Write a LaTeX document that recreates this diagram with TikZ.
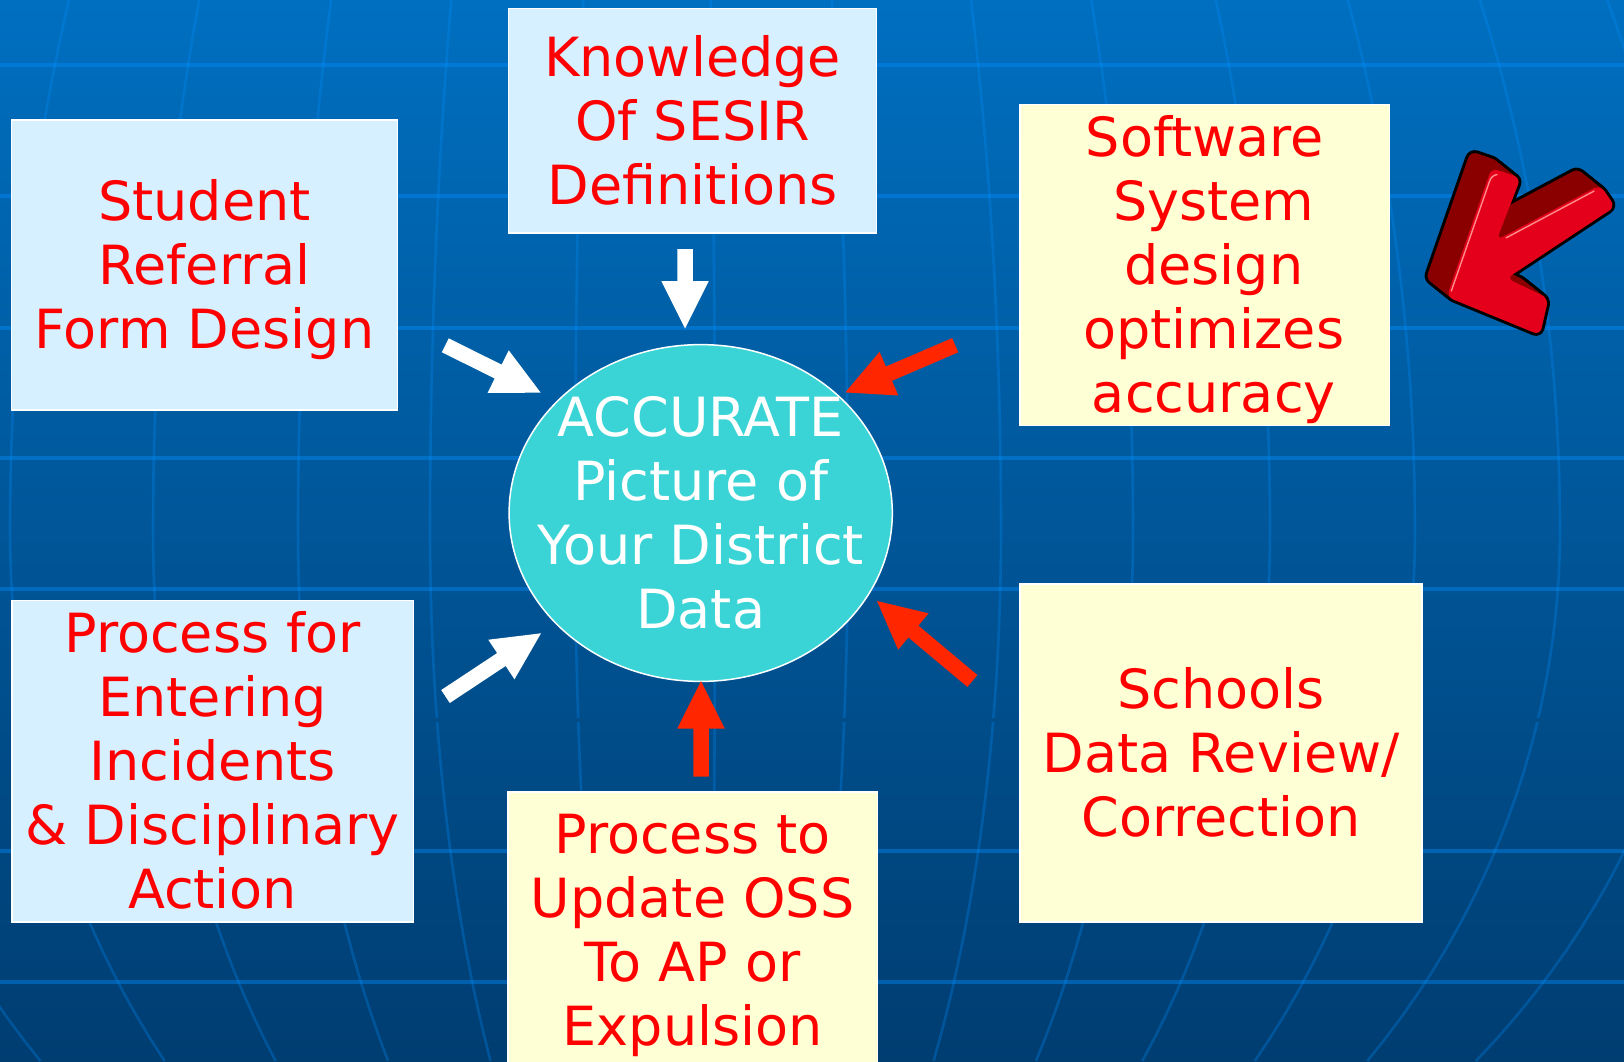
\documentclass[tikz,border=0pt]{standalone}
\usepackage{fontspec}
\setmainfont{DejaVu Sans}
\usetikzlibrary{shapes.geometric,calc}
\definecolor{boxblue}{RGB}{214,240,255}
\definecolor{boxyellow}{RGB}{255,255,214}
\definecolor{textred}{RGB}{255,0,0}
\definecolor{arrowred}{RGB}{255,38,0}
\definecolor{turq}{RGB}{58,212,214}
\definecolor{bgtop}{RGB}{0,111,192}
\definecolor{bgbot}{RGB}{0,61,113}
\definecolor{gridblue}{RGB}{0,144,255}
\definecolor{eqcolor}{RGB}{0,77,138}
\definecolor{darkredside}{RGB}{138,0,0}
\definecolor{frontred}{RGB}{228,0,26}
\definecolor{hilite}{RGB}{255,140,140}
\newcommand{\fl}{\rule{0pt}{39.6pt}}
\newcommand{\blockarrow}[3]{%
  \coordinate (hb) at ($(#3)!47.5pt!(#2)$);
  \fill[#1] ($(#2)!7.75pt!90:(#3)$) -- ($(hb)!7.75pt!-90:(#2)$) -- ($(hb)!23.75pt!-90:(#2)$) -- (#3) -- ($(hb)!23.75pt!90:(#2)$) -- ($(hb)!7.75pt!90:(#2)$) -- ($(#2)!7.75pt!-90:(#3)$) -- cycle;
}
\newcommand{\bigarrowshape}[1]{%
  \path[#1] (1491.5,168) -- (1520.5,178) -- (1496.7,240) -- (1600,185) -- (1615,206.7) -- (1506.7,278.3) -- (1548.3,298.3) -- (1540,335) -- (1446.7,296.7) -- cycle;
}
\begin{document}
\begin{tikzpicture}[x=1pt,y=-1pt,
  bigfont/.style={font=\fontsize{54}{64}\selectfont},
  boxbase/.style={bigfont, draw=white, line width=1.5pt, text=textred, align=center, inner sep=0pt},
  bluebox/.style={boxbase, fill=boxblue},
  yellowbox/.style={boxbase, fill=boxyellow},
  hline/.style={draw=gridblue, draw opacity=0.4, line width=3.4pt},
  vline/.style={draw=gridblue, draw opacity=0.28, line width=2.6pt},
  whitearrow/.style={fill=white},
  redarrow/.style={fill=arrowred}]
\useasboundingbox (0,0) rectangle (1624,1061);
\shade[top color=bgtop, bottom color=bgbot] (0,0) rectangle (1624,1061);
% grid
\foreach \yy in {65,196,328,458,589,851,982}
  \draw[hline] (0,\yy) -- (1624,\yy);
\foreach \xe in {-150,10,153,298,430,575,715,848,1001,1133,1270,1415,1560,1700} {
  \draw[vline] plot[domain=0:530, samples=25, variable=\yv] ({667+(\xe-667)*sqrt(1-((530-\yv)/1280)^2)}, {\yv});
  \draw[vline] plot[domain=530:1061, samples=25, variable=\yv] ({700+(\xe-700)*sqrt(1-((\yv-530)/841.7)^2)}, {\yv});
}
\draw[draw=eqcolor, line width=3.4pt] (0,720) -- (1624,720);
% boxes
\node[bluebox, minimum width=368.2pt, minimum height=224.5pt] (knowledge) at (692.6,120.75)
  {\fl\smash{Knowledge}\\\smash{Of SESIR}\\\smash{Definitions}};
\node[bluebox, minimum width=386.3pt, minimum height=289.6pt] (student) at (204.5,265)
  {\fl\smash{Student}\\\smash{Referral}\\\smash{Form Design}};
\node[yellowbox, minimum width=369.2pt, minimum height=321.4pt] (software) at (1204.8,265)
  {\fl\smash{Software}\\\smash{\hspace*{18pt}System}\\\smash{\hspace*{18pt}design}\\\smash{\hspace*{18pt}optimizes}\\\smash{\hspace*{18pt}accuracy}};
\node[bluebox, minimum width=401.4pt, minimum height=321.4pt] (entering) at (212.6,761.1)
  {\fl\smash{Process for}\\\smash{Entering}\\\smash{Incidents}\\\smash{\& Disciplinary}\\\smash{Action}};
\node[yellowbox, minimum width=369.3pt, minimum height=275pt] (update) at (692.6,929.5)
  {\fl\smash{Process to}\\\smash{Update OSS}\\\smash{To AP or}\\\smash{Expulsion}};
\node[yellowbox, minimum width=401.8pt, minimum height=337.6pt] (schools) at (1221.1,753)
  {\fl\smash{Schools}\\\smash{Data Review/}\\\smash{Correction}};
% centre ellipse
\node[ellipse, minimum width=383.2pt, minimum height=336.8pt, inner sep=0pt, fill=turq, draw=white, line width=1.5pt] (accurate) at (700.7,513) {};
\node[bigfont, text=white, align=center, inner sep=0pt] (accuratetext) at (accurate.center)
  {\fl\smash{ACCURATE}\\\smash{Picture of}\\\smash{Your District}\\\smash{Data}};
% arrow end points
\coordinate (a1s) at (685,249);     \coordinate (a1e) at (685,328.5);
\coordinate (a2s) at (445.3,345.3); \coordinate (a2e) at (540.7,392.7);
\coordinate (a3s) at (955.2,345.2); \coordinate (a3e) at (845.3,392.4);
\coordinate (a4s) at (445.5,696.5); \coordinate (a4e) at (541,633.3);
\coordinate (a5s) at (701,776.6);   \coordinate (a5e) at (701,681.2);
\coordinate (a6s) at (972.4,681);   \coordinate (a6e) at (877,601);
\blockarrow{whitearrow}{a1s}{a1e}
\blockarrow{whitearrow}{a2s}{a2e}
\blockarrow{redarrow}{a3s}{a3e}
\blockarrow{whitearrow}{a4s}{a4e}
\blockarrow{redarrow}{a5s}{a5e}
\blockarrow{redarrow}{a6s}{a6e}
% big 3D arrow
\foreach \s in {0,...,14}
  \bigarrowshape{draw=black, line width=6pt, line join=round, rounded corners=7pt, shift={(-1.5*\s,-1.2*\s)}};
\foreach \s in {0,...,14}
  \bigarrowshape{fill=darkredside, rounded corners=7pt, shift={(-1.5*\s,-1.2*\s)}};
\bigarrowshape{fill=frontred, rounded corners=7pt};
\draw[hilite, line width=1.4pt, line cap=round] (1451.3,291) -- (1489.4,181.7) .. controls (1490.5,178) and (1492.5,175.5) .. (1497,174.5);
\draw[hilite, line width=1.4pt, line cap=round] (1506.2,237.8) -- (1594,191.1);
\end{tikzpicture}
\end{document}
